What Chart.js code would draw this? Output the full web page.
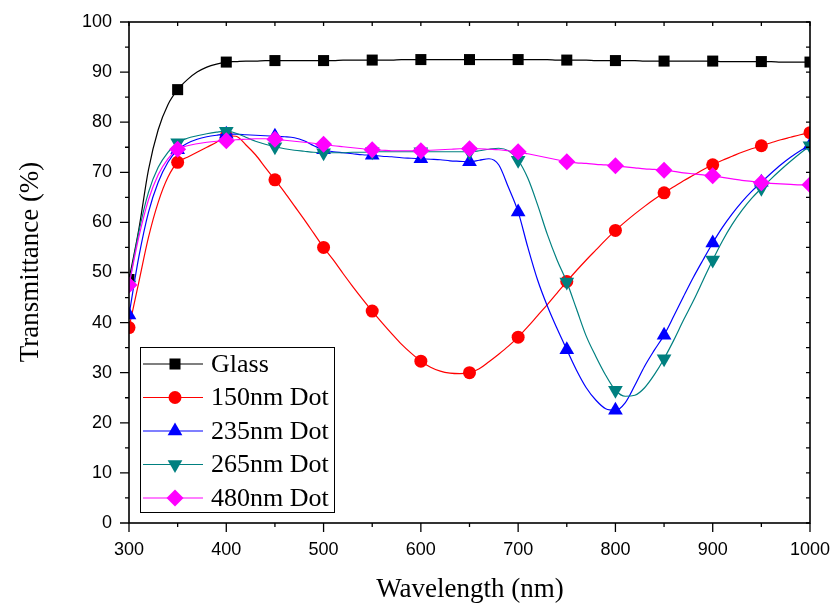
<!DOCTYPE html>
<html><head><meta charset="utf-8">
<script src="https://cdn.jsdelivr.net/npm/chart.js@4.4.1/dist/chart.umd.min.js"></script>
<style>html,body{margin:0;padding:0;background:#fff;}</style>
</head><body>
<canvas id="c" width="837" height="608" style="display:block;width:837px;height:608px"></canvas>
<script>
const wavelengths = [300,310,320,330,340,350,360,370,380,390,400,410,420,430,440,450,460,470,480,490,500,510,520,530,540,550,560,570,580,590,600,610,620,630,640,650,660,670,680,690,700,710,720,730,740,750,760,770,780,790,800,810,820,830,840,850,860,870,880,890,900,910,920,930,940,950,960,970,980,990,1000];
const glass = [48.6,58.5,70.5,78.5,83.5,86.5,88.5,90.0,91.0,91.6,92.0,92.1,92.2,92.2,92.3,92.3,92.3,92.3,92.3,92.3,92.3,92.3,92.4,92.4,92.4,92.4,92.4,92.4,92.5,92.5,92.5,92.5,92.5,92.5,92.5,92.5,92.5,92.5,92.5,92.5,92.5,92.5,92.5,92.5,92.4,92.4,92.4,92.4,92.3,92.3,92.3,92.3,92.3,92.2,92.2,92.2,92.2,92.2,92.2,92.2,92.2,92.1,92.1,92.1,92.1,92.1,92.1,92.0,92.0,92.0,92.0];
const dot150 = [39.0,48.0,57.0,64.0,69.0,72.0,73.0,74.0,75.0,76.0,77.3,77.2,75.5,73.5,71.0,68.5,66.0,63.3,60.6,57.8,55.0,52.5,49.8,47.2,44.7,42.3,40.0,37.8,35.7,33.9,32.3,31.1,30.3,29.9,29.8,30.0,30.8,32.2,33.7,35.3,37.1,39.2,41.4,43.6,45.9,48.2,50.4,52.5,54.5,56.5,58.4,60.1,61.7,63.2,64.6,65.9,67.1,68.3,69.4,70.5,71.5,72.4,73.2,74.0,74.7,75.3,75.9,76.5,77.0,77.5,77.9];
const dot235 = [41.5,53.0,62.0,68.0,72.0,74.5,75.8,76.6,77.1,77.4,77.6,77.6,77.5,77.4,77.3,77.2,77.1,76.9,76.3,75.3,74.5,74.1,73.9,73.7,73.5,73.4,73.2,73.1,72.9,72.8,72.7,72.6,72.5,72.3,72.2,72.1,72.4,72.7,71.5,67.0,62.1,55.0,48.5,43.3,38.8,34.6,30.5,27.0,24.5,22.8,22.5,24.0,27.5,31.3,34.5,37.5,41.3,45.2,49.0,52.5,55.9,59.0,61.7,64.1,66.2,68.0,69.8,71.5,73.0,74.3,75.4];
const dot265 = [47.5,58.0,66.0,71.0,74.0,75.9,76.8,77.3,77.7,78.0,78.2,77.8,77.0,76.2,75.6,75.1,74.7,74.4,74.2,74.0,73.9,73.9,73.9,74.0,74.0,74.1,74.1,74.1,74.1,74.1,74.1,74.1,74.1,74.1,74.1,74.1,74.3,74.6,74.8,74.3,72.4,68.8,63.5,57.6,52.5,48.1,42.7,37.3,33.2,29.5,26.5,25.3,25.5,27.0,29.6,32.8,36.5,40.5,44.3,48.4,52.5,56.3,59.6,62.4,64.8,66.8,68.7,70.5,72.2,73.8,75.3];
const dot480 = [47.5,57.0,64.5,69.5,72.7,74.6,75.3,75.7,76.0,76.2,76.3,76.5,76.6,76.7,76.7,76.6,76.4,76.2,76.0,75.8,75.6,75.3,75.1,74.9,74.7,74.5,74.4,74.3,74.3,74.3,74.3,74.4,74.5,74.6,74.7,74.7,74.7,74.6,74.5,74.3,74.1,73.7,73.3,72.9,72.5,72.1,71.9,71.8,71.6,71.5,71.3,71.1,70.9,70.7,70.6,70.4,70.2,69.9,69.7,69.5,69.3,69.0,68.7,68.4,68.2,67.9,67.8,67.7,67.6,67.5,67.5];
const seriesNames = ['Glass','150nm Dot','235nm Dot','265nm Dot','480nm Dot'];
const xTicks = [300,400,500,600,700,800,900,1000];
const yTicks = [0,10,20,30,40,50,60,70,80,90,100];

const styles = [
  {color:'#000000', shape:'rect', r:7.8, rot:0},
  {color:'#ff0000', shape:'circle', r:6.5, rot:0},
  {color:'#0000ff', shape:'triangle', r:8.5, rot:0},
  {color:'#008080', shape:'triangle', r:8.5, rot:180},
  {color:'#ff00ff', shape:'rectRot', r:8.5, rot:0}
];
const allSeries = [glass, dot150, dot235, dot265, dot480];

const datasets = allSeries.map((vals, i) => ({
  label: seriesNames[i],
  data: wavelengths.map((w, j) => ({x: w, y: vals[j]})),
  borderColor: styles[i].color,
  backgroundColor: styles[i].color,
  borderWidth: 1.2,
  pointStyle: styles[i].shape,
  pointRotation: styles[i].rot,
  pointBorderWidth: 0,
  pointRadius: c => (wavelengths[c.dataIndex] % 50 === 0 ? styles[i].r : 0),
  cubicInterpolationMode: 'monotone',
  order: 4 - i
}));

const TNR = '"Liberation Serif","Times New Roman",serif';

const framePlugin = {
  id: 'frame',
  afterDatasetsDraw(chart) {
    const {ctx, chartArea: a, scales: {x, y}} = chart;
    ctx.save();
    ctx.strokeStyle = '#000';
    ctx.lineWidth = 1.6;
    ctx.strokeRect(a.left, a.top, a.right - a.left, a.bottom - a.top);
    ctx.lineWidth = 1.3;
    ctx.beginPath();
    for (let v = 300; v <= 1000; v += 50) {
      const px = x.getPixelForValue(v);
      const major = v % 100 === 0;
      ctx.moveTo(px, a.bottom); ctx.lineTo(px, a.bottom + (major ? 9 : 4));
      ctx.moveTo(px, a.top); ctx.lineTo(px, a.top + 4);
    }
    for (let v = 0; v <= 100; v += 5) {
      const py = y.getPixelForValue(v);
      const major = v % 10 === 0;
      ctx.moveTo(a.left, py); ctx.lineTo(a.left - (major ? 9 : 4), py);
      ctx.moveTo(a.right, py); ctx.lineTo(a.right - 4, py);
    }
    ctx.stroke();

    // legend
    const lx = 140.5, ly = 347.5, lw = 194, lh = 165;
    ctx.fillStyle = '#fff';
    ctx.fillRect(lx, ly, lw, lh);
    ctx.lineWidth = 1;
    ctx.strokeStyle = '#000';
    ctx.strokeRect(lx, ly, lw, lh);
    ctx.font = '26px ' + TNR;
    ctx.textBaseline = 'middle';
    ctx.textAlign = 'left';
    seriesNames.forEach((name, i) => {
      const cy = 364 + i * 33.5;
      ctx.strokeStyle = styles[i].color;
      ctx.lineWidth = 1.2;
      ctx.beginPath(); ctx.moveTo(143, cy); ctx.lineTo(203, cy); ctx.stroke();
      ctx.fillStyle = styles[i].color;
      Chart.helpers.drawPoint(ctx, {pointStyle: styles[i].shape, radius: styles[i].r, rotation: styles[i].rot, borderWidth: 0}, 175, cy);
      ctx.fillStyle = '#000';
      ctx.fillText(name, 211, cy + 1);
    });

    // axis titles
    ctx.fillStyle = '#000';
    ctx.font = '27px ' + TNR;
    ctx.textAlign = 'center';
    ctx.textBaseline = 'alphabetic';
    ctx.fillText('Wavelength (nm)', 470, 597);
    ctx.translate(38, 262);
    ctx.rotate(-Math.PI / 2);
    ctx.fillText('Transmittance (%)', 0, 0);
    ctx.restore();
  }
};

const zeroPad = s => { s.paddingTop = 0; s.paddingBottom = 0; s.paddingLeft = 0; s.paddingRight = 0; };

new Chart(document.getElementById('c'), {
  type: 'line',
  data: {datasets},
  options: {
    responsive: false,
    animation: false,
    events: [],
    layout: {padding: {left: 0, right: 27, top: 22, bottom: 0}},
    plugins: {legend: {display: false}, tooltip: {enabled: false}},
    scales: {
      x: {
        type: 'linear', min: 300, max: 1000,
        afterFit: s => { s.height = 85; zeroPad(s); },
        afterBuildTicks: s => { s.ticks = xTicks.map(v => ({value: v})); },
        grid: {display: false, drawTicks: false},
        border: {display: false},
        ticks: {color: '#000', font: {family: '"Liberation Sans",Arial,sans-serif', size: 18}, padding: 16, maxRotation: 0, callback: v => String(v)}
      },
      y: {
        type: 'linear', min: 0, max: 100,
        afterFit: s => { s.width = 129; zeroPad(s); },
        afterBuildTicks: s => { s.ticks = yTicks.map(v => ({value: v})); },
        grid: {display: false, drawTicks: false},
        border: {display: false},
        ticks: {color: '#000', font: {family: '"Liberation Sans",Arial,sans-serif', size: 18}, padding: 17, callback: v => String(v)}
      }
    }
  },
  plugins: [framePlugin]
});
</script>
</body></html>
